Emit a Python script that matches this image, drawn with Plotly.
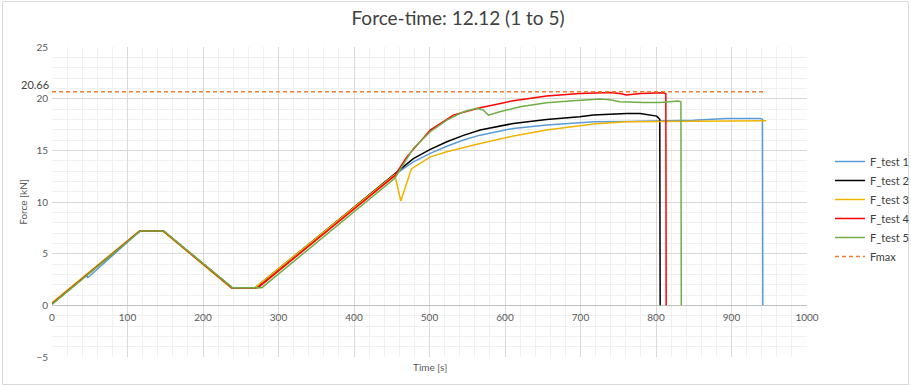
import plotly.graph_objects as go

# ---------------- data ----------------
t1 = [0, 45, 46, 47, 116.5, 147.5, 238, 269, 454, 478.6, 501, 523, 545, 567, 611, 655, 699, 717, 761, 805, 849, 894, 938, 941, 941.5]
f1 = [0.16, 2.86, 3.05, 2.65, 7.2, 7.2, 1.71, 1.71, 12.66, 13.89, 14.7, 15.4, 16.0, 16.47, 17.12, 17.44, 17.67, 17.76, 17.8, 17.86, 17.9, 18.08, 18.08, 18.0, 0]

t2 = [0, 116.5, 147.5, 238, 270, 454, 478.6, 501, 523, 545, 567, 611, 655, 699, 717, 761, 779, 801, 804, 805, 805.5]
f2 = [0.15, 7.2, 7.2, 1.71, 1.71, 12.66, 14.2, 15.1, 15.83, 16.45, 16.96, 17.6, 17.99, 18.25, 18.41, 18.57, 18.57, 18.31, 18.09, 18.0, 0]

t3 = [0, 115.5, 146.5, 237, 269, 454, 462, 476, 501, 523, 567, 611, 655, 699, 717, 761, 805, 849, 894, 946]
f3 = [0.25, 7.2, 7.2, 1.71, 1.71, 12.66, 10.1, 13.2, 14.37, 14.86, 15.67, 16.38, 16.96, 17.34, 17.54, 17.76, 17.8, 17.8, 17.82, 17.86]

t4 = [0, 116.5, 147.5, 238, 273, 454, 470, 501, 531.5, 567, 611, 655, 699, 739, 752, 761, 779, 810, 813, 813.5]
f4 = [0.15, 7.2, 7.2, 1.71, 1.71, 12.55, 14.37, 16.96, 18.41, 19.12, 19.8, 20.25, 20.51, 20.6, 20.5, 20.35, 20.5, 20.57, 20.5, 0]

t5 = [0, 117, 148, 239, 278, 454, 478.6, 501, 523, 545, 562.5, 571, 578, 593, 620, 655, 690, 726, 739, 752, 783, 805, 829.5, 833, 833.5]
f5 = [0.1, 7.2, 7.2, 1.71, 1.71, 12.3, 15.18, 16.8, 17.93, 18.73, 19.06, 18.9, 18.41, 18.73, 19.22, 19.6, 19.8, 19.96, 19.9, 19.7, 19.64, 19.64, 19.77, 19.7, 0]

fmax_value = 20.66
fmax_t = [0, 946]

names = ["F_test 1", "F_test 2", "F_test 3", "F_test 4", "F_test 5"]
colors = ["#5B9BD5", "#000000", "#F0B400", "#FF0000", "#70AD47"]

x_ticks = [0, 100, 200, 300, 400, 500, 600, 700, 800, 900, 1000]
y_ticks = [-5, 0, 5, 10, 15, 20, 25]

FONT = "Lato"

fig = go.Figure()
for t, f, n, c in zip([t1, t2, t3, t4, t5], [f1, f2, f3, f4, f5], names, colors):
    fig.add_trace(go.Scatter(x=t, y=f, mode="lines", name=n,
                             line=dict(color=c, width=1.5)))
fig.add_trace(go.Scatter(x=fmax_t, y=[fmax_value] * len(fmax_t), mode="lines", name="Fmax",
                         line=dict(color="#ED7D31", width=1.5, dash="4px,3px")))

W, H = 911, 387
L, R, T, B = 52, 104, 47, 30
plot_w = W - L - R
plot_h = H - T - B

def px_x(px):
    return (px - L) / plot_w

def px_y(py):
    return (H - B - py) / plot_h

fig.update_layout(
    width=W, height=H,
    margin=dict(l=L, r=R, t=T, b=B, autoexpand=False),
    paper_bgcolor="white", plot_bgcolor="white",
    font=dict(family=FONT, color="#595959", size=10),
    title=dict(text="Force-time: 12.12 (1 to 5)", x=458 / W, xref="container", xanchor="center",
               y=1 - 18 / H, yref="container", yanchor="middle",
               font=dict(family=FONT, size=19, color="#404040")),
    showlegend=True,
    legend=dict(x=830 / W, y=1 - 209 / H, xref="container", yref="container",
                xanchor="left", yanchor="middle",
                font=dict(family=FONT, size=11, color="#404040"),
                itemwidth=30, bgcolor="rgba(0,0,0,0)"),
    xaxis=dict(range=[0, 1000], tickvals=x_ticks, showgrid=True, gridcolor="#D9D9D9",
               gridwidth=1, zeroline=False, showline=False, ticks="",
               anchor="free", position=5 / 30, ticklabelstandoff=5,
               minor=dict(dtick=20, showgrid=True, gridcolor="#F0F0F0", gridwidth=1),
               tickfont=dict(family=FONT, size=10, color="#595959")),
    yaxis=dict(range=[-5, 25], tickvals=y_ticks, showgrid=True, gridcolor="#D9D9D9",
               gridwidth=1, zeroline=True, zerolinecolor="#BFBFBF", zerolinewidth=1,
               showline=False, ticks="", ticklabelstandoff=3,
               minor=dict(dtick=1, showgrid=True, gridcolor="#F0F0F0", gridwidth=1),
               title=dict(text="Force [kN]", font=dict(family=FONT, size=10, color="#595959"), standoff=6),
               tickfont=dict(family=FONT, size=10, color="#595959")),
)

# x-axis title at the bottom
fig.add_annotation(text="Time [s]", x=500, xref="x", y=px_y(367), yref="paper",
                   showarrow=False, xanchor="center", yanchor="middle",
                   font=dict(family=FONT, size=10, color="#595959"))
# Fmax value label
fig.add_annotation(text=str(fmax_value), x=px_x(51), xref="paper", y=fmax_value, yref="y",
                   showarrow=False, xanchor="right", yanchor="bottom", yshift=-1,
                   font=dict(family=FONT, size=11, color="#404040"))
# outer chart border
fig.add_shape(type="rect", xref="paper", yref="paper",
              x0=px_x(2.5), x1=px_x(908.5), y0=px_y(384.5), y1=px_y(1.5),
              line=dict(color="#D9D9D9", width=1), fillcolor="rgba(0,0,0,0)", layer="below")

fig.write_html("out.html")
